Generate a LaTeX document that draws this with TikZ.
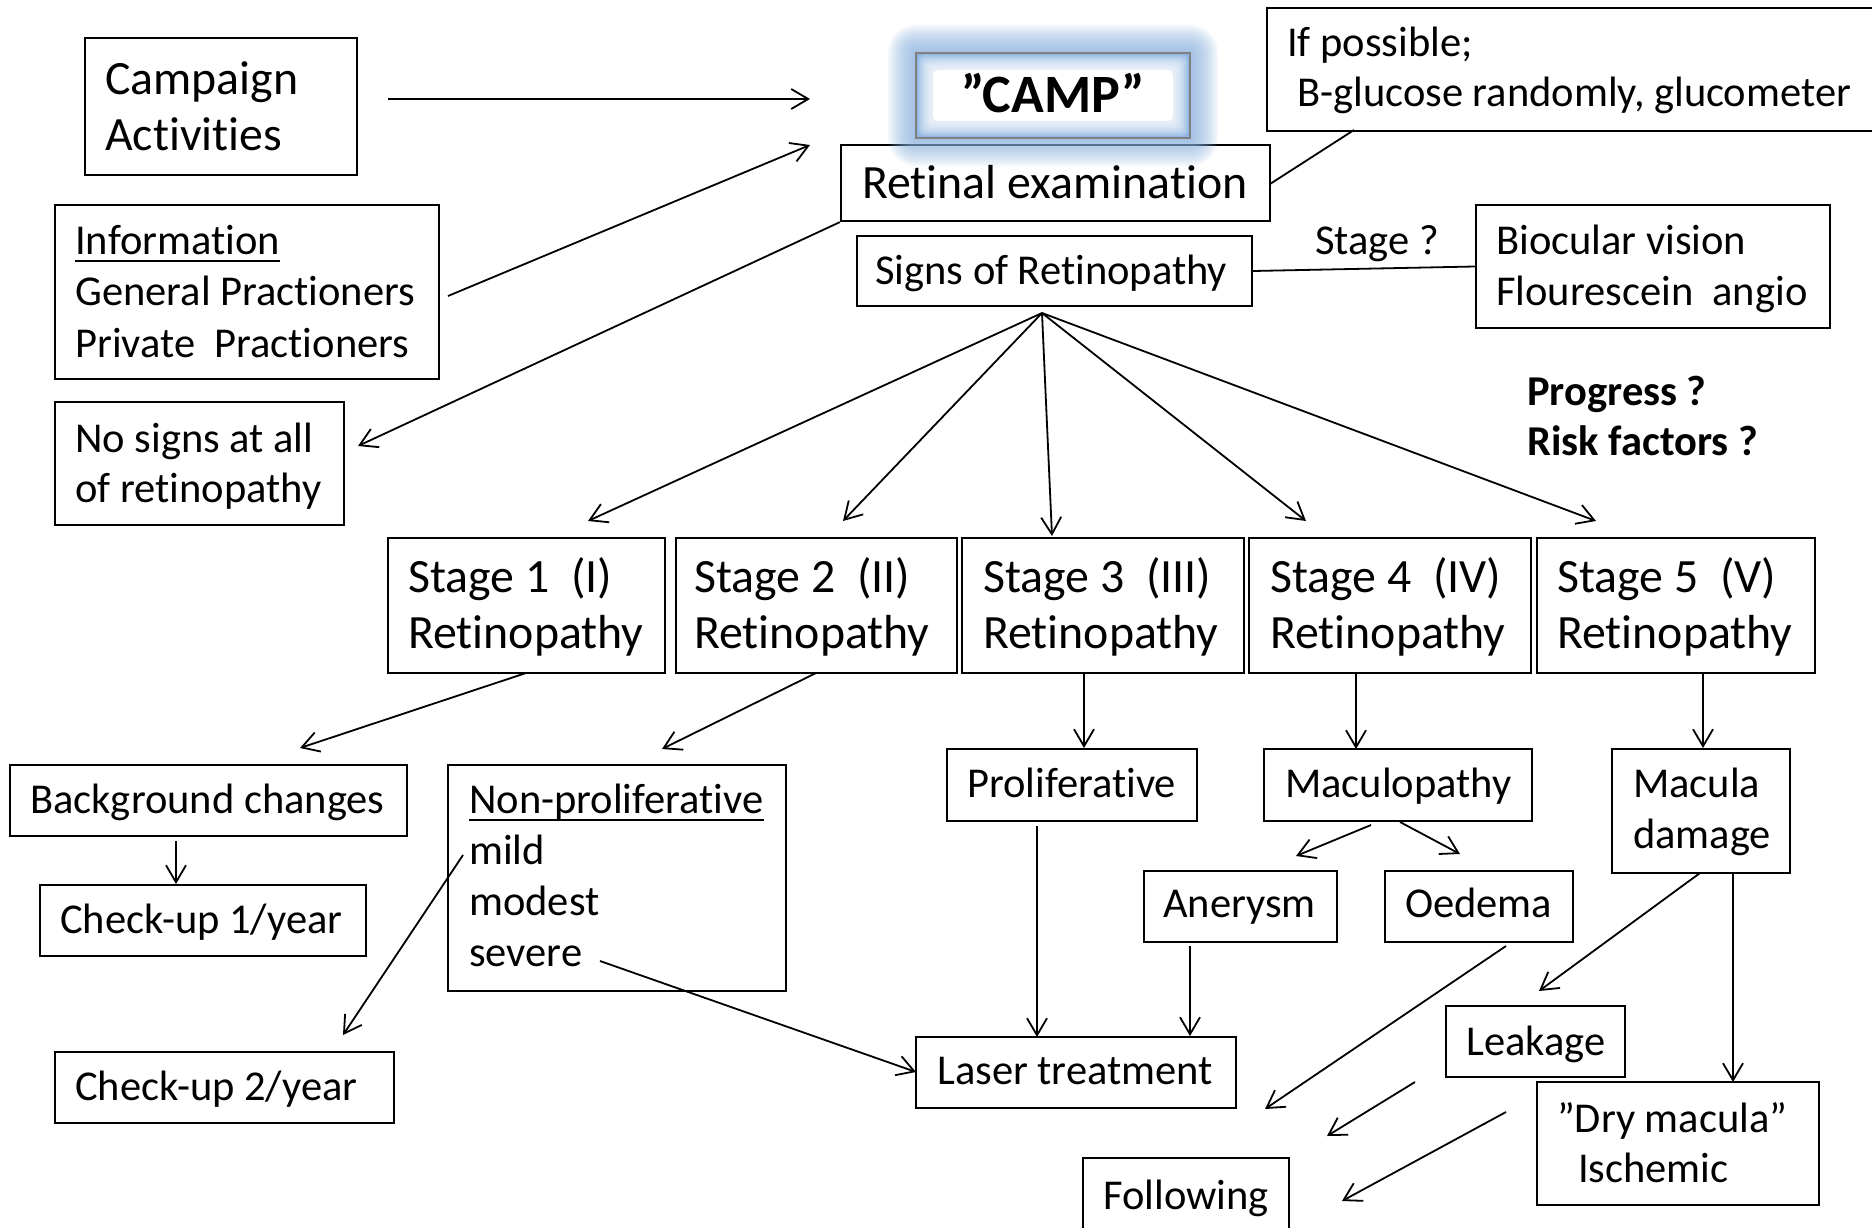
\documentclass[tikz,border=0pt]{standalone}
\usepackage{fontspec}
\setmainfont{Carlito}[Ligatures=NoCommon]
\usetikzlibrary{arrows.meta,fit}
\definecolor{glowblue}{RGB}{141,180,226}
\definecolor{campgray}{RGB}{128,128,128}
\tikzset{
 box/.style={draw=black, line width=2.2pt, inner sep=0pt, rectangle},
 txt/.style={inner sep=0pt, anchor=base west, font=\fontsize{42.5}{51}\selectfont},
 bigtxt/.style={txt, font=\fontsize{47.8}{55.5}\selectfont},
 boldtxt/.style={txt, font=\fontsize{42.5}{51}\selectfont\bfseries},
 conn/.style={line width=1.8pt},
 arr/.style={conn, -{Straight Barb[length=17pt,width=20pt,line width=1.8pt]}},
 uline/.style={line width=2.6pt},
}
\begin{document}
\begin{tikzpicture}[x=1pt,y=-1pt]
\useasboundingbox (0,0) rectangle (1872,1228);
\fill[white] (0,0) rectangle (1872,1228);
\clip (0,0) rectangle (1872,1228);

% ---------- boxes ----------
\node[box, fit={(85,38)(357,175)}] (campact) {};
\node[box, fit={(841,145)(1270,221)}] (ret) {};
\node[box, fit={(1267,8)(1885,131)}] (ifp) {};
\node[box, fit={(55,205)(439,379)}] (info) {};
\node[box, fit={(55,402)(344,525)}] (nosig) {};
\node[box, fit={(857,236)(1252,306)}] (signs) {};
\node[box, fit={(1476,205)(1830,328)}] (bio) {};
\node[box, fit={(388,538)(665,673)}] (s1) {};
\node[box, fit={(676,538)(957,673)}] (s2) {};
\node[box, fit={(962,538)(1244,673)}] (s3) {};
\node[box, fit={(1249,538)(1531,673)}] (s4) {};
\node[box, fit={(1537,538)(1815,673)}] (s5) {};
\node[box, fit={(10,765)(407,836)}] (bg) {};
\node[box, fit={(40,885)(366,956)}] (cu1) {};
\node[box, fit={(448,765)(786,991)}] (np) {};
\node[box, fit={(55,1052)(394,1123)}] (cu2) {};
\node[box, fit={(916,1037)(1236,1108)}] (laser) {};
\node[box, fit={(947,749)(1197,821)}] (prolif) {};
\node[box, fit={(1264,749)(1532,821)}] (macu) {};
\node[box, fit={(1144,871)(1337,942)}] (aner) {};
\node[box, fit={(1385,871)(1573,942)}] (oed) {};
\node[box, fit={(1612,749)(1790,873)}] (mdam) {};
\node[box, fit={(1446,1006)(1625,1077)}] (leak) {};
\node[box, fit={(1537,1082)(1819,1205)}] (dry) {};
\node[box, fit={(1083,1158)(1289,1245)}] (follow) {};

% ---------- CAMP glow ----------
\foreach \d in {28,26,...,2}
  \fill[glowblue, opacity=0.09, rounded corners=\d pt] ({916-\d},{53-\d}) rectangle ({1190+\d},{138+\d});
\fill[glowblue] (916,53) rectangle (1190,138);
\foreach \d in {2,4,...,14}
  \fill[white, opacity=0.2, rounded corners=5pt] ({916+\d},{53+\d}) rectangle ({1190-\d},{138-\d});
\fill[white, rounded corners=5pt] (933,70) rectangle (1173,121);
\node[draw=campgray, line width=2.2pt, inner sep=0pt, fit={(916,53)(1190,138)}] (camp) {};

% ---------- texts ----------
\node[bigtxt] (tca1) at (105,95) {Campaign};
\node[bigtxt] (tca2) at (105,150) {Activities};
\node[inner sep=0pt, anchor=base, font=\fontsize{54}{60}\selectfont\bfseries] (tcamp) at (1053,113) {”CAMP”};
\node[bigtxt] (tret) at (862,198) {Retinal examination};
\node[txt] (tifp1) at (1287,57) {If possible;};
\node[txt] (tifp2) at (1297,107) {B-glucose randomly, glucometer};
\node[txt] (tinf1) at (75,254) {Information};
\node[txt] (tinf2) at (75,305) {General Practioners};
\node[txt] (tinf3) at (75,357) {Private\ \ Practioners};
\node[txt] (tno1) at (75,452) {No signs at all};
\node[txt] (tno2) at (75,502) {of retinopathy};
\node[txt] (tsigns) at (875,284) {Signs of Retinopathy};
\node[txt] (tstageq) at (1315,254) {Stage ?};
\node[txt] (tbio1) at (1496,254) {Biocular vision};
\node[txt] (tbio2) at (1496,305) {Flourescein\ \ angio};
\node[boldtxt] (tprog) at (1527,405) {Progress ?};
\node[boldtxt] (trisk) at (1527,455) {Risk factors ?};

\node[bigtxt] (ts1a) at (408,592) {Stage 1\ \ (I)};
\node[bigtxt] (ts1b) at (408,648) {Retinopathy};
\node[bigtxt] (ts2a) at (694,592) {Stage 2\ \ (II)};
\node[bigtxt] (ts2b) at (694,648) {Retinopathy};
\node[bigtxt] (ts3a) at (983,592) {Stage 3\ \ (III)};
\node[bigtxt] (ts3b) at (983,648) {Retinopathy};
\node[bigtxt] (ts4a) at (1270,592) {Stage 4\ \ (IV)};
\node[bigtxt] (ts4b) at (1270,648) {Retinopathy};
\node[bigtxt] (ts5a) at (1557,592) {Stage 5\ \ (V)};
\node[bigtxt] (ts5b) at (1557,648) {Retinopathy};

\node[txt] (tbg) at (30,813) {Background changes};
\node[txt] (tcu1) at (60,933) {Check-up 1/year};
\node[txt] (tnp1) at (469,813) {Non-proliferative};
\node[txt] (tnp2) at (469,864) {mild};
\node[txt] (tnp3) at (469,915) {modest};
\node[txt] (tnp4) at (469,966) {severe};
\node[txt] (tcu2) at (75,1100) {Check-up 2/year};
\node[txt] (tlaser) at (937,1084) {Laser treatment};
\node[txt] (tprolif) at (967,797) {Proliferative};
\node[txt] (tmacu) at (1285,797) {Maculopathy};
\node[txt] (taner) at (1163,917) {Anerysm};
\node[txt] (toed) at (1405,917) {Oedema};
\node[txt] (tmd1) at (1633,797) {Macula};
\node[txt] (tmd2) at (1633,848) {damage};
\node[txt] (tleak) at (1466,1055) {Leakage};
\node[txt] (tdry1) at (1557,1132) {”Dry macula”};
\node[txt] (tdry2) at (1578,1182) {Ischemic};
\node[txt] (tfollow) at (1103,1209) {Following};

\draw[uline] ([yshift=-7pt]tinf1.base west) -- ([yshift=-7pt]tinf1.base east);
\draw[uline] ([yshift=-7pt]tnp1.base west) -- ([yshift=-7pt]tnp1.base east);

% ---------- connector end points ----------
\coordinate (caS) at (388,99);   \coordinate (caE) at (810,99);
\coordinate (inS) at (448,296);  \coordinate (inE) at (810,145);
\coordinate (noE) at (358,446);
\coordinate (retR) at (1270,184); \coordinate (ifpB) at (1354,130);
\coordinate (fan) at (1042,313);
\coordinate (f1) at (588,521); \coordinate (f2) at (843,521); \coordinate (f3) at (1052,536);
\coordinate (f4) at (1306,521); \coordinate (f5) at (1596,521);
\coordinate (s1o) at (526,673); \coordinate (bgi) at (300,748);
\coordinate (s2o) at (816,673); \coordinate (npi) at (662,749);
\coordinate (bgo) at (176,841); \coordinate (cu1i) at (176,884);
\coordinate (mildo) at (463,855); \coordinate (cu2i) at (343,1035);
\coordinate (sevo) at (600,961); \coordinate (laseri) at (916,1072);
\coordinate (s3o) at (1084,673); \coordinate (prolifi) at (1084,748);
\coordinate (prolifo) at (1037,826); \coordinate (laseri2) at (1037,1037);
\coordinate (s4o) at (1356,673); \coordinate (macui) at (1356,749);
\coordinate (macuo1) at (1371,825); \coordinate (aneri) at (1296,856);
\coordinate (macuo2) at (1400,822); \coordinate (oedi) at (1460,854);
\coordinate (anero) at (1190,946); \coordinate (laseri3) at (1190,1036);
\coordinate (oedo) at (1506,946); \coordinate (oedE) at (1265,1109);
\coordinate (s5o) at (1703,673); \coordinate (mdami) at (1703,748);
\coordinate (mdamo1) at (1700,873); \coordinate (leaki) at (1539,991);
\coordinate (mdamo2) at (1733,873); \coordinate (dryi) at (1733,1082);
\coordinate (leako) at (1415,1082); \coordinate (leakE) at (1327,1136);
\coordinate (dryo) at (1506,1112); \coordinate (dryE) at (1342,1201);

% ---------- connectors ----------
\draw[arr] (caS) -- (caE);
\draw[arr] (inS) -- (inE);
\draw[arr] (ret.south west) -- (noE);
\draw[conn] (retR) -- (ifpB);
\draw[conn] (signs.east) -- (bio.west);
\draw[arr] (fan) -- (f1);
\draw[arr] (fan) -- (f2);
\draw[arr] (fan) -- (f3);
\draw[arr] (fan) -- (f4);
\draw[arr] (fan) -- (f5);
\draw[arr] (s1o) -- (bgi);
\draw[arr] (s2o) -- (npi);
\draw[arr] (bgo) -- (cu1i);
\draw[arr] (mildo) -- (cu2i);
\draw[arr] (sevo) -- (laseri);
\draw[arr] (s3o) -- (prolifi);
\draw[arr] (prolifo) -- (laseri2);
\draw[arr] (s4o) -- (macui);
\draw[arr] (macuo1) -- (aneri);
\draw[arr] (macuo2) -- (oedi);
\draw[arr] (anero) -- (laseri3);
\draw[arr] (oedo) -- (oedE);
\draw[arr] (s5o) -- (mdami);
\draw[arr] (mdamo1) -- (leaki);
\draw[arr] (mdamo2) -- (dryi);
\draw[arr] (leako) -- (leakE);
\draw[arr] (dryo) -- (dryE);
\end{tikzpicture}
\end{document}
